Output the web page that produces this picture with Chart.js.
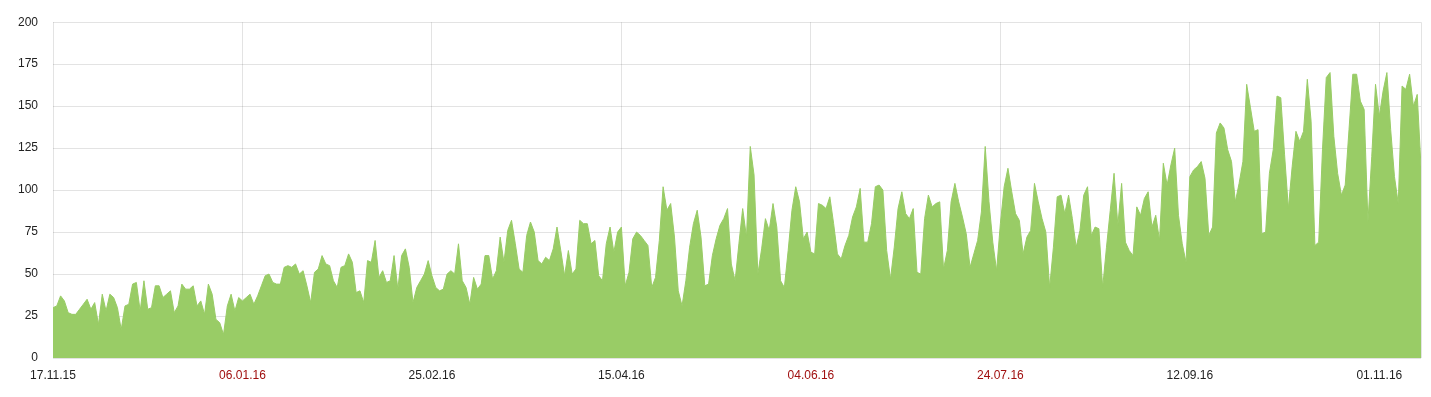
<!DOCTYPE html>
<html>
<head>
<meta charset="utf-8">
<script src="https://cdn.jsdelivr.net/npm/chart.js@4.4.1/dist/chart.umd.min.js"></script>
<style>
  body { margin: 0; background: #fff; }
  #wrap { width: 1431px; height: 397px; }
</style>
</head>
<body>
<div id="wrap"><canvas id="visitsChart" width="1431" height="397"></canvas></div>
<script>
// daily values, 17.11.15 .. 13.11.16
var visits = [
    30, 31, 37, 34, 27, 26, 26, 29, 32, 35, 29, 33, 20, 38, 28, 38, 36, 30, 17, 31, 32, 44, 45, 28, 46, 29, 30, 43, 43, 36, 38,
    40, 27, 31, 44, 41, 41, 43, 31, 34, 26, 44, 38, 23, 21, 14, 31, 38, 28, 36, 34, 36, 38, 32, 37, 43, 49, 50, 45, 44, 44,
    54, 55, 54, 56, 50, 52, 43, 33, 51, 53, 61, 56, 55, 46, 42, 54, 55, 62, 57, 39, 40, 33, 58, 57, 70, 48, 52, 45, 46, 61,
    41, 61, 65, 54, 33, 42, 46, 50, 58, 49, 42, 40, 41, 50, 52, 50, 68, 46, 42, 32, 48, 41, 44, 61, 61, 47, 52, 72, 57, 76, 82,
    68, 53, 51, 73, 81, 75, 58, 56, 60, 58, 65, 78, 64, 49, 64, 50, 53, 82, 80, 80, 68, 70, 49, 46, 68, 78, 63, 75, 78, 43,
    51, 71, 75, 73, 70, 67, 42, 48, 70, 102, 88, 92, 72, 40, 31, 46, 66, 80, 88, 72, 43, 44, 61, 71, 79, 83, 89, 56, 46, 68,
    89, 72, 126, 109, 50, 65, 83, 76, 92, 78, 46, 42, 64, 88, 102, 93, 71, 75, 63, 62, 92, 91, 89, 96, 80, 62, 59, 67, 73, 84,
    90, 101, 69, 69, 80, 102, 103, 100, 64, 47, 66, 89, 99, 86, 83, 89, 51, 50, 83, 97, 90, 92, 93, 53, 64, 93, 104, 93, 84, 74,
    54, 62, 70, 87, 126, 93, 69, 52, 80, 102, 113, 99, 86, 82, 62, 72, 76, 104, 93, 83, 75, 42, 66, 96, 97, 86, 97, 83, 66, 76,
    97, 102, 73, 78, 77, 42, 66, 88, 110, 79, 104, 69, 64, 61, 90, 85, 95, 99, 78, 85, 70, 116, 103, 115, 125, 85, 68, 57, 108, 112,
    114, 117, 107, 73, 78, 134, 140, 137, 124, 117, 93, 104, 117, 163, 149, 135, 136, 74, 75, 110, 124, 156, 155, 121, 89, 114, 135, 129, 135, 166,
    141, 67, 69, 124, 167, 170, 132, 110, 97, 103, 136, 169, 169, 153, 148, 81, 120, 163, 144, 159, 170, 136, 108, 92, 162, 160, 169, 150, 157, 114
];

// one label every 50 days
var tickLabels = ['17.11.15', '06.01.16', '25.02.16', '15.04.16', '04.06.16', '24.07.16', '12.09.16', '01.11.16'];
var holidayLabels = ['06.01.16', '04.06.16', '24.07.16'];

var points = visits.map(function (v, i) { return { x: i, y: v }; });

var ctx = document.getElementById('visitsChart').getContext('2d');
var visitsChart = new Chart(ctx, {
    type: 'line',
    data: {
        datasets: [{
            data: points,
            fill: 'origin',
            backgroundColor: '#99cc66',
            borderColor: '#99cc66',
            borderWidth: 1,
            pointRadius: 0,
            tension: 0
        }]
    },
    options: {
        responsive: false,
        animation: false,
        layout: { padding: { top: 18, right: 6, left: 0, bottom: 0 } },
        plugins: {
            legend: { display: false },
            tooltip: { enabled: false }
        },
        scales: {
            x: {
                type: 'linear',
                min: 0,
                max: visits.length - 1,
                z: 1,
                afterFit: function (s) { s.height = 39; },
                border: { display: false },
                grid: { color: 'rgba(0,0,0,0.11)', drawTicks: false },
                ticks: {
                    stepSize: 50,
                    padding: 10,
                    maxRotation: 0,
                    autoSkip: false,
                    font: { family: 'Liberation Sans, Arial, sans-serif', size: 12 },
                    color: function (c) {
                        var lbl = tickLabels[c.tick.value / 50];
                        return holidayLabels.indexOf(lbl) >= 0 ? '#a01010' : '#222';
                    },
                    callback: function (v) { return tickLabels[v / 50] || ''; }
                }
            },
            y: {
                min: 0,
                max: 200,
                z: 1,
                afterFit: function (s) { s.width = 53; },
                border: { display: false },
                grid: { color: 'rgba(0,0,0,0.11)', drawTicks: false },
                ticks: {
                    stepSize: 25,
                    padding: 15,
                    color: '#222',
                    font: { family: 'Liberation Sans, Arial, sans-serif', size: 12 }
                }
            }
        }
    }
});
</script>
</body>
</html>
